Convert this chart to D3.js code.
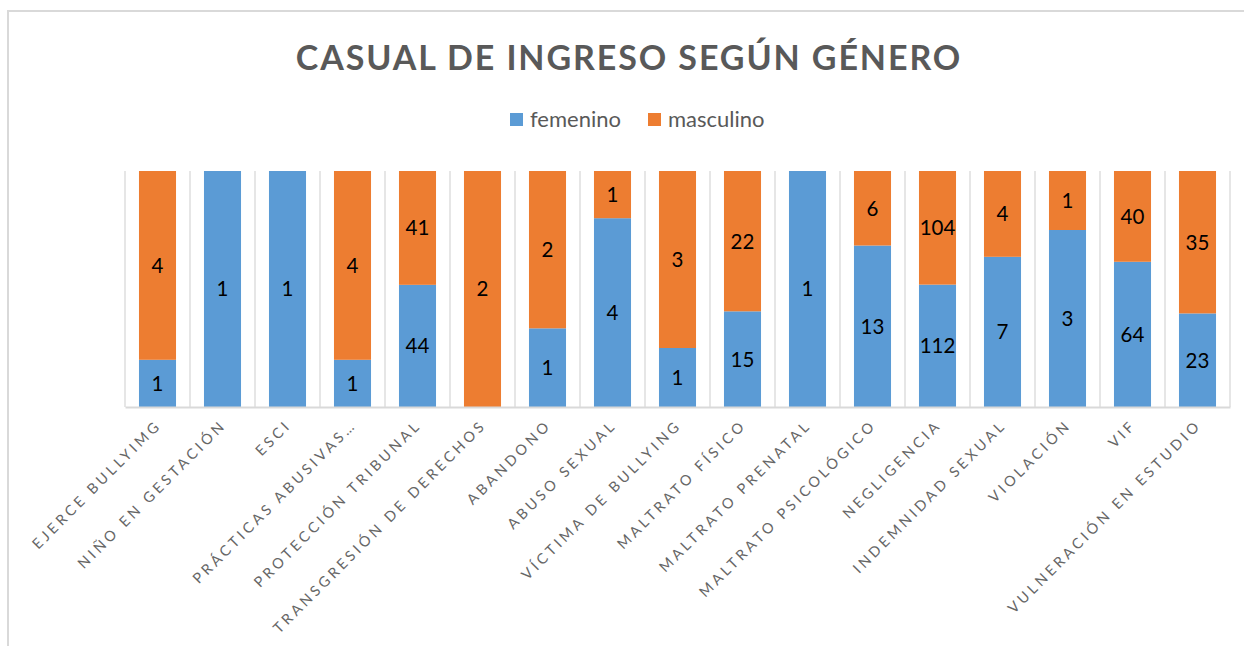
<!DOCTYPE html>
<html><head><meta charset="utf-8">
<script src="https://cdn.jsdelivr.net/npm/d3@7"></script>
<style>
html,body{margin:0;padding:0;background:#fff;}
svg{display:block;}
</style></head>
<body>
<svg id="chart" width="1244" height="646"></svg>
<script>
const categories = ["EJERCE BULLYIMG","NIÑO EN GESTACIÓN","ESCI","PRÁCTICAS ABUSIVAS…","PROTECCIÓN TRIBUNAL","TRANSGRESIÓN DE DERECHOS","ABANDONO","ABUSO SEXUAL","VÍCTIMA DE BULLYING","MALTRATO FÍSICO","MALTRATO PRENATAL","MALTRATO PSICOLÓGICO","NEGLIGENCIA","INDEMNIDAD SEXUAL","VIOLACIÓN","VIF","VULNERACIÓN EN ESTUDIO"];
const femenino  = [1, 1, 1, 1, 44, null, 1, 4, 1, 15, 1, 13, 112, 7, 3, 64, 23];
const masculino = [4, null, null, 4, 41, 2, 2, 1, 3, 22, null, 6, 104, 4, 1, 40, 35];
const seriesNames = ["femenino","masculino"];
const colors = ["#5B9BD5","#ED7D31"];
const title = "CASUAL DE INGRESO SEGÚN GÉNERO";

const svg = d3.select("#chart");
// outer frame
svg.append("rect").attr("x",8).attr("y",11).attr("width",1260).attr("height",660)
  .attr("fill","#fff").attr("stroke","#d9d9d9").attr("stroke-width",2);

const x0 = 125, x1 = 1230, y0 = 171, y1 = 407;
const x = d3.scaleBand().domain(categories).range([x0,x1]).paddingInner(0.43).paddingOuter(0.215);
const xb = d3.scaleBand().domain(categories).range([x0,x1]);
const y = d3.scaleLinear().domain([0,1]).range([y1,y0]);

// vertical gridlines at category boundaries
const bounds = categories.map(c=>xb(c)).concat([x1]);
svg.append("g").selectAll("line").data(bounds).join("line")
  .attr("x1",d=>d).attr("x2",d=>d).attr("y1",y0).attr("y2",y1)
  .attr("stroke","#d9d9d9").attr("stroke-width",1.3);

const rows = categories.map((c,i)=>{
  const f = femenino[i]||0, m = masculino[i]||0, t = f+m;
  return {c, vals:[femenino[i], masculino[i]], f:f/t, m:m/t};
});
const stack = d3.stack().keys(["f","m"])(rows);

const g = svg.append("g");
stack.forEach((layer,si)=>{
  g.append("g").selectAll("rect").data(layer).join("rect")
    .attr("x",d=>x(d.data.c)).attr("width",x.bandwidth())
    .attr("y",d=>y(d[1])).attr("height",d=>y(d[0])-y(d[1]))
    .attr("fill",colors[si]);
});
// labels
stack.forEach((layer,si)=>{
  g.append("g").selectAll("text").data(layer.filter(d=>d.data.vals[si]!=null)).join("text")
    .attr("x",d=>x(d.data.c)+x.bandwidth()/2).attr("y",d=>(y(d[0])+y(d[1]))/2)
    .attr("dy","0.36em").attr("text-anchor","middle")
    .attr("font-family","Lato, 'Liberation Sans', sans-serif").attr("font-size",20.5)
    .attr("fill","#000").text(d=>d.data.vals[si]);
});

// axis line
const xAxis = d3.axisBottom(xb).tickSize(0).tickPadding(0);
const ax = svg.append("g").attr("transform",`translate(0,${y1})`).call(xAxis);
ax.select(".domain").attr("stroke","#d9d9d9").attr("stroke-width",2);
ax.selectAll(".tick text")
  .attr("font-family","Lato, 'Liberation Sans', sans-serif").attr("font-size",14.5)
  .attr("fill","#666").attr("letter-spacing","3.4px")
  .attr("text-anchor","end").attr("dy","0.72em").attr("dx","3.4px")
  .attr("transform","translate(-5,14) rotate(-45)");

// title
svg.append("text").attr("x",629).attr("y",70).attr("text-anchor","middle")
  .attr("font-family","Lato, 'Liberation Sans', sans-serif").attr("font-weight","bold")
  .attr("font-size",34).attr("letter-spacing","1.9px").attr("fill","#595959").text(title);

// legend
const legX = [510, 648];
seriesNames.forEach((s,i)=>{
  svg.append("rect").attr("x",legX[i]).attr("y",113).attr("width",13).attr("height",13).attr("fill",colors[i]);
  svg.append("text").attr("x",legX[i]+20).attr("y",127)
    .attr("font-family","Lato, 'Liberation Sans', sans-serif").attr("font-size",22)
    .attr("fill","#595959").text(s);
});
</script>
</body></html>
